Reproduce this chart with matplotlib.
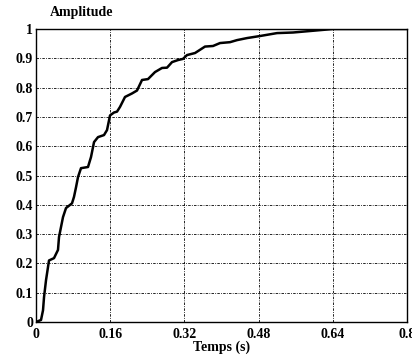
import matplotlib.pyplot as plt

# Step response
temps = [0, 0.0108, 0.0151, 0.0173, 0.0216, 0.0259, 0.028, 0.0388, 0.0474,
         0.0496, 0.0539, 0.0582, 0.0647, 0.0712, 0.0776, 0.0819, 0.0863,
         0.0906, 0.097, 0.1121, 0.1186, 0.1251, 0.1337, 0.1466, 0.1531,
         0.1596, 0.1682, 0.1747, 0.1811, 0.1919, 0.207, 0.2178, 0.2286,
         0.2415, 0.2566, 0.2717, 0.2825, 0.2933, 0.3062, 0.317, 0.3256,
         0.3429, 0.3644, 0.3817, 0.3968, 0.4183, 0.4334, 0.455, 0.483,
         0.5197, 0.5542, 0.6189, 0.6404, 0.8]
amplitude = [0, 0.007, 0.04, 0.085, 0.143, 0.188, 0.21, 0.218, 0.246,
             0.29, 0.324, 0.358, 0.389, 0.397, 0.405, 0.427, 0.46, 0.495,
             0.525, 0.529, 0.563, 0.614, 0.631, 0.638, 0.655, 0.705, 0.715,
             0.718, 0.734, 0.768, 0.78, 0.79, 0.826, 0.829, 0.853, 0.867,
             0.868, 0.887, 0.894, 0.898, 0.911, 0.918, 0.94, 0.942, 0.952,
             0.955, 0.962, 0.969, 0.976, 0.986, 0.988, 0.997, 1.0, 1.0]

x_ticks = [0, 0.16, 0.32, 0.48, 0.64, 0.8]
x_labels = ['0', '0.16', '0.32', '0.48', '0.64', '0.8']
y_ticks = [0, 0.1, 0.2, 0.3, 0.4, 0.5, 0.6, 0.7, 0.8, 0.9, 1]
y_labels = ['0', '0.1', '0.2', '0.3', '0.4', '0.5', '0.6', '0.7', '0.8', '0.9', '1']

plt.rcParams['font.family'] = ['Liberation Serif', 'DejaVu Serif']
plt.rcParams['font.weight'] = 'bold'

fig = plt.figure(figsize=(4.12, 3.57), dpi=100)
ax = fig.add_axes([0.0874, 0.098, 0.9005, 0.8208])

ax.plot(temps, amplitude, color='black', linewidth=1.8)

ax.set_xlim(0, 0.8)
ax.set_ylim(0, 1)
ax.set_xticks(x_ticks)
ax.set_xticklabels(x_labels, fontsize=10, fontweight='bold')
ax.set_yticks(y_ticks)
ax.set_yticklabels(y_labels, fontsize=10, fontweight='bold')
ax.tick_params(length=0, pad=2)
ax.tick_params(axis='x', pad=4)

ax.grid(True, color='black', linestyle=(0, (3, 1.5, 1, 1.5)), linewidth=0.6)
for s in ax.spines.values():
    s.set_linewidth(1.0)

ax.set_xlabel('Temps (s)', fontsize=10, fontweight='bold', labelpad=0)
fig.text(0.199, 0.965, 'Amplitude', fontsize=10, fontweight='bold',
         ha='center', va='center')

fig.savefig('out.png', dpi=100)
